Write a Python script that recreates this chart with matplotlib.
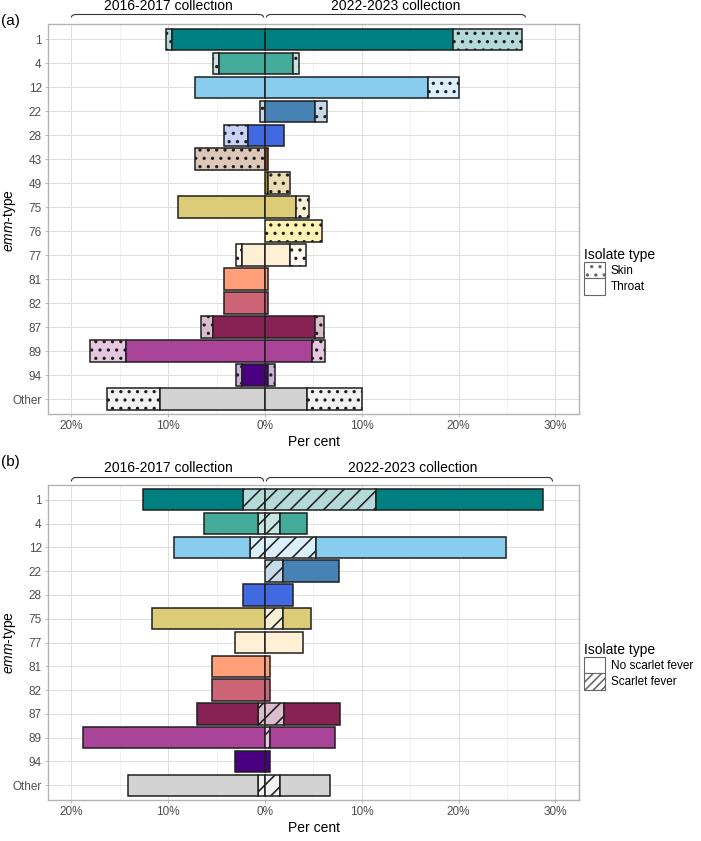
import matplotlib
matplotlib.use("Agg")
import matplotlib.pyplot as plt
import numpy as np
from matplotlib.patches import Patch, PathPatch
from matplotlib.path import Path
from matplotlib.transforms import blended_transform_factory

plt.rcParams['font.family'] = ['Liberation Sans', 'DejaVu Sans']
plt.rcParams['mathtext.fontset'] = 'custom'
plt.rcParams['mathtext.rm'] = 'Liberation Sans'
plt.rcParams['mathtext.it'] = 'Liberation Sans:italic'
plt.rcParams['hatch.linewidth'] = 1.15
plt.rcParams['hatch.color'] = '#1a1a1a'

# ---------------- data: panel (a) ----------------
cats_a = ['1', '4', '12', '22', '28', '43', '49', '75', '76', '77', '81', '82', '87', '89', '94', 'Other']
throat_1617 = [9.6, 4.8, 7.2, 0, 1.8, 0, 0, 9.0, 0, 2.4, 4.2, 4.2, 5.4, 14.4, 2.4, 10.9]
skin_1617 = [0.6, 0.6, 0, 0.55, 2.4, 7.2, 0, 0, 0, 0.6, 0, 0, 1.2, 3.7, 0.6, 5.4]
throat_2223 = [19.4, 2.9, 16.8, 5.2, 2.0, 0.3, 0.3, 3.25, 0, 2.6, 0.35, 0.35, 5.2, 4.9, 0.3, 4.3]
skin_2223 = [7.1, 0.65, 3.25, 1.25, 0, 0, 2.3, 1.3, 5.9, 1.65, 0, 0, 0.9, 1.25, 0.7, 5.75]

# ---------------- data: panel (b) ----------------
cats_b = ['1', '4', '12', '22', '28', '75', '77', '81', '82', '87', '89', '94', 'Other']
sf_1617 = [2.3, 0.77, 1.55, 0, 0, 0, 0, 0, 0, 0.77, 0, 0, 0.77]
nosf_1617 = [10.3, 5.5, 7.9, 0, 2.3, 11.7, 3.1, 5.45, 5.45, 6.3, 18.8, 3.1, 13.4]
sf_2223 = [11.5, 1.5, 5.3, 1.9, 0, 1.9, 0, 0, 0, 2.0, 0.55, 0, 1.5]
nosf_2223 = [17.2, 2.85, 19.55, 5.75, 2.9, 2.9, 3.9, 0.55, 0.55, 5.7, 6.65, 0.55, 5.25]

emm_colors = {
    '1': '#008080', '4': '#44AA99', '12': '#88CCEE', '22': '#4682B4', '28': '#4169E1',
    '43': '#8B4513', '49': '#B8860B', '75': '#DDCC77', '76': '#FFD700', '77': '#FFEFD5',
    '81': '#FFA07A', '82': '#CC6677', '87': '#882255', '89': '#AA4499', '94': '#4B0082',
    'Other': '#D3D3D3',
}

tick_vals = [-20, -10, 0, 10, 20, 30]
tick_labels = ['20%', '10%', '0%', '10%', '20%', '30%']

W, H = 701, 841
fig = plt.figure(figsize=(W / 100, H / 100), dpi=100)

EDGE = '#1f1f1f'
LW = 1.1


def lighten(c, a=0.3):
    rgb = np.array(matplotlib.colors.to_rgb(c))
    return tuple(rgb * a + (1 - a))


def ax_rect(l, r, t, b):
    return [l / W, 1 - b / H, (r - l) / W, (b - t) / H]


def style_axes(ax, cats, ylab_ypx):
    n = len(cats)
    ax.set_xlim(-22.42, 32.44)
    ax.set_ylim(n + 0.62, 0.38)
    ax.set_yticks(np.arange(1, n + 1))
    ax.set_yticklabels(cats)
    ax.set_xticks(tick_vals)
    ax.set_xticklabels(tick_labels)
    ax.set_xticks([-15, -5, 5, 15, 25], minor=True)
    ax.grid(True, which='major', color='#DEDEDE', linewidth=0.7, zorder=0)
    ax.grid(True, which='minor', axis='x', color='#EBEBEB', linewidth=0.45, zorder=0)
    ax.set_axisbelow(True)
    for s in ax.spines.values():
        s.set_color('#B3B3B3')
        s.set_linewidth(1.0)
    ax.tick_params(axis='both', which='major', colors='#B3B3B3', labelcolor='#4D4D4D',
                   labelsize=8.5, length=2.5, width=0.6, pad=2)
    ax.tick_params(axis='x', which='minor', length=0)
    ax.set_xlabel('Per cent', fontsize=10, color='black', labelpad=2)
    fig.text(10 / W, 1 - ylab_ypx / H, r'$\mathit{emm}$-type', fontsize=10, rotation=90,
             ha='center', va='center')


def draw_panel(ax, cats, inner_l, outer_l, inner_r, outer_r, hatch, ylab_ypx):
    n = len(cats)
    y = np.arange(1, n + 1)
    cols = [emm_colors[c] for c in cats]
    lights = [lighten(c) for c in cols]
    for i in range(n):
        if outer_l[i] > 0:
            ax.barh(y[i], -outer_l[i], left=-inner_l[i], height=0.9, color=lights[i],
                    edgecolor=EDGE, linewidth=LW, hatch=hatch, zorder=3)
        if inner_l[i] > 0:
            ax.barh(y[i], -inner_l[i], height=0.9, color=cols[i], edgecolor=EDGE,
                    linewidth=LW, zorder=3)
        if inner_r[i] > 0:
            ax.barh(y[i], inner_r[i], height=0.9, color=cols[i], edgecolor=EDGE,
                    linewidth=LW, zorder=3)
        if outer_r[i] > 0:
            ax.barh(y[i], outer_r[i], left=inner_r[i], height=0.9, color=lights[i],
                    edgecolor=EDGE, linewidth=LW, hatch=hatch, zorder=3)
    style_axes(ax, cats, ylab_ypx)


def draw_panel_b(ax, cats, sf_l, nosf_l, sf_r, nosf_r, ylab_ypx):
    n = len(cats)
    y = np.arange(1, n + 1)
    cols = [emm_colors[c] for c in cats]
    lights = [lighten(c) for c in cols]
    for i in range(n):
        if sf_l[i] > 0:
            ax.barh(y[i], -sf_l[i], height=0.9, color=lights[i], edgecolor=EDGE,
                    linewidth=LW, hatch='//', zorder=3)
        if nosf_l[i] > 0:
            ax.barh(y[i], -nosf_l[i], left=-sf_l[i], height=0.9, color=cols[i],
                    edgecolor=EDGE, linewidth=LW, zorder=3)
        if sf_r[i] > 0:
            ax.barh(y[i], sf_r[i], height=0.9, color=lights[i], edgecolor=EDGE,
                    linewidth=LW, hatch='//', zorder=3)
        if nosf_r[i] > 0:
            ax.barh(y[i], nosf_r[i], left=sf_r[i], height=0.9, color=cols[i],
                    edgecolor=EDGE, linewidth=LW, zorder=3)
    style_axes(ax, cats, ylab_ypx)


def bracket(ax, x0, x1, ypx_line, ypx_hook, d=0.5):
    tr = blended_transform_factory(ax.transData, fig.transFigure)
    yl = 1 - ypx_line / H
    yh = 1 - ypx_hook / H
    verts = [(x0, yh), (x0, yl), (x0 + d, yl), (x1 - d, yl), (x1, yl), (x1, yh)]
    codes = [Path.MOVETO, Path.CURVE3, Path.CURVE3, Path.LINETO, Path.CURVE3, Path.CURVE3]
    p = PathPatch(Path(verts, codes), transform=tr, facecolor='none', edgecolor='#333333',
                  linewidth=0.8, clip_on=False)
    ax.add_patch(p)


def bracket_text(ax, x, ypx, s):
    tr = blended_transform_factory(ax.transData, fig.transFigure)
    ax.text(x, 1 - ypx / H, s, transform=tr, ha='center', va='center', fontsize=10,
            color='black', clip_on=False)


def legend(handles, ytop):
    lg = fig.legend(handles=handles, title='Isolate type', loc='upper left',
                    bbox_to_anchor=(584 / W, 1 - ytop / H), frameon=False, fontsize=8.5,
                    title_fontsize=10, handlelength=1.75, handleheight=1.75,
                    handletextpad=0.5, labelspacing=0.0, borderpad=0, borderaxespad=0)
    lg._legend_box.align = 'left'
    return lg


# ---------------- panel (a) ----------------
axa = fig.add_axes(ax_rect(48, 579, 24.5, 414))
draw_panel(axa, cats_a, throat_1617, skin_1617, throat_2223, skin_2223, '..', 220)
bracket(axa, -20, -0.15, 14.5, 17.5)
bracket(axa, 0.15, 26.9, 14.5, 17.5)
bracket_text(axa, -10, 5.5, '2016-2017 collection')
bracket_text(axa, 13.5, 5.5, '2022-2023 collection')
fig.text(1 / W, 1 - 21 / H, '(a)', fontsize=11, va='center', ha='left')

hand_a = [Patch(facecolor='white', edgecolor='#666666', linewidth=0.8, hatch='..', label='Skin'),
          Patch(facecolor='white', edgecolor='#666666', linewidth=0.8, label='Throat')]
legend(hand_a, 248)

# ---------------- panel (b) ----------------
axb = fig.add_axes(ax_rect(48, 579, 485, 800))
draw_panel_b(axb, cats_b, sf_1617, nosf_1617, sf_2223, nosf_2223, 642)
bracket(axb, -20, -0.15, 477.5, 481.5)
bracket(axb, 0.15, 29.7, 477.5, 481.5)
bracket_text(axb, -10, 467.5, '2016-2017 collection')
bracket_text(axb, 15.3, 467.5, '2022-2023 collection')
fig.text(1 / W, 1 - 462 / H, '(b)', fontsize=11, va='center', ha='left')

hand_b = [Patch(facecolor='white', edgecolor='#666666', linewidth=0.8, label='No scarlet fever'),
          Patch(facecolor='white', edgecolor='#666666', linewidth=0.8, hatch='////', label='Scarlet fever')]
legend(hand_b, 643)

fig.savefig('out.png', dpi=100)
